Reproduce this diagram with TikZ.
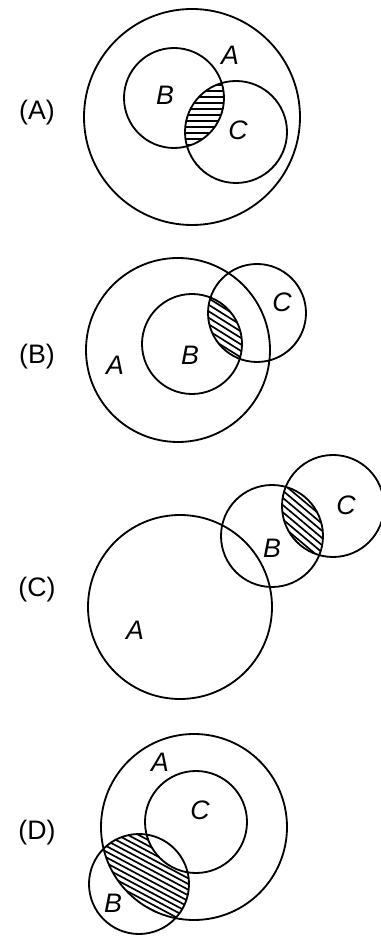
\documentclass[tikz,border=0pt]{standalone}
\usepackage{fontspec}
\setmainfont{Liberation Sans}
\usetikzlibrary{calc}

% hatching of a clipped region: centre x, centre y, angle, spacing
\newcommand{\hatchfill}[4]{%
  \foreach \k in {-25,...,25}{
    \draw[hatchline, rotate around={#3:(#1,#2)}] (#1-160,#2+\k*#4) -- (#1+160,#2+\k*#4);
  }}

\begin{document}
\begin{tikzpicture}[x=0.025cm, y=0.025cm,
  set/.style={draw, line width=1.3pt},
  hatchline/.style={line width=1.2pt},
  setlbl/.style={font=\fontsize{19}{21}\selectfont\itshape},
  tag/.style={font=\fontsize{19}{21}\selectfont}]
  \useasboundingbox (0,0) rectangle (381,936);

  % (A): A contains B and C, shaded B and C
  \begin{scope}
    \clip (174,838) circle[radius=50];
    \clip (236,804) circle[radius=51];
    \hatchfill{205}{821}{0}{6}
  \end{scope}
  \draw[set] (192,819) circle[radius=108];
  \draw[set] (174,838) circle[radius=50];
  \draw[set] (236,804) circle[radius=51];
  \node[tag] (pA) at (37,823) {(A)};
  \node[setlbl] (a1) at (230,881) {A};
  \node[setlbl] (b1) at (165,841) {B};
  \node[setlbl] (c1) at (238,806) {C};

  % (B): B inside A, C overlaps both
  \begin{scope}
    \clip (192,592) circle[radius=50];
    \clip (257,623) circle[radius=49];
    \hatchfill{225}{608}{-32}{5.5}
  \end{scope}
  \draw[set] (178,586) circle[radius=92];
  \draw[set] (192,592) circle[radius=50];
  \draw[set] (257,623) circle[radius=49];
  \node[tag] (pB) at (37,579) {(B)};
  \node[setlbl] (a2) at (115,571) {A};
  \node[setlbl] (b2) at (190,581) {B};
  \node[setlbl] (c2) at (282,634) {C};

  % (C): chain A -- B -- C
  \begin{scope}
    \clip (272,400) circle[radius=51];
    \clip (333,430) circle[radius=51];
    \hatchfill{303}{414}{-40}{5.5}
  \end{scope}
  \draw[set] (180,329) circle[radius=92];
  \draw[set] (272,400) circle[radius=51];
  \draw[set] (333,430) circle[radius=51];
  \node[tag] (pC) at (37,346) {(C)};
  \node[setlbl] (a3) at (135,306) {A};
  \node[setlbl] (b3) at (272,388) {B};
  \node[setlbl] (c3) at (346,431) {C};

  % (D): C inside A, B overlaps A, shaded A and B but not C
  \begin{scope}
    \clip (194,109) circle[radius=93];
    \clip (139,52) circle[radius=50];
    \hatchfill{145}{75}{-28}{5}
    \fill[white] (196,114) circle[radius=51];
  \end{scope}
  \draw[set] (194,109) circle[radius=93];
  \draw[set] (196,114) circle[radius=51];
  \draw[set] (139,52) circle[radius=50];
  \node[tag] (pD) at (37,103) {(D)};
  \node[setlbl] (a4) at (160,174) {A};
  \node[setlbl] (c4) at (200,126) {C};
  \node[setlbl] (b4) at (113,33) {B};
\end{tikzpicture}
\end{document}
